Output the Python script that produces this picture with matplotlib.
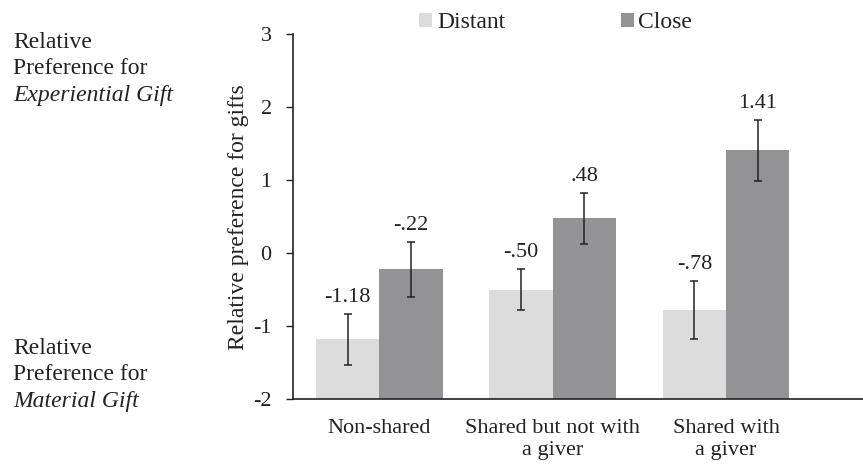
import numpy as np
import matplotlib.pyplot as plt

plt.rcParams['font.family'] = ['Liberation Serif', 'DejaVu Serif']

# data
categories = ['Non-shared', 'Shared but not with\na giver', 'Shared with\na giver']
distant = [-1.18, -0.50, -0.78]
close = [-0.22, 0.48, 1.41]
distant_err = [0.35, 0.285, 0.395]
close_err = [0.375, 0.35, 0.42]
distant_labels = ['-1.18', '-.50', '-.78']
close_labels = ['-.22', '.48', '1.41']

fig = plt.figure(figsize=(8.63, 4.68), dpi=100)
ax = fig.add_axes([0.339, 0.147, 0.661, 0.78])

x = np.arange(len(categories))
w = 0.365
c_dist = '#dcdcdd'
c_close = '#939396'
txt = '#222222'

ax.bar(x - w / 2, np.array(distant) + 2, w, bottom=-2, color=c_dist, label='Distant')
ax.bar(x + w / 2, np.array(close) + 2, w, bottom=-2, color=c_close, label='Close')
ax.errorbar(x - w / 2, distant, yerr=distant_err, fmt='none', ecolor=txt,
            elinewidth=1.1, capsize=2.8, capthick=1.1)
ax.errorbar(x + w / 2, close, yerr=close_err, fmt='none', ecolor=txt,
            elinewidth=1.1, capsize=2.8, capthick=1.1)

for xi, v, e, s in zip(x - w / 2, distant, distant_err, distant_labels):
    ax.annotate(s, (xi, v + e), xytext=(0, 5), textcoords='offset points',
                ha='center', va='bottom', fontsize=16, color=txt)
for xi, v, e, s in zip(x + w / 2, close, close_err, close_labels):
    ax.annotate(s, (xi, v + e), xytext=(0, 5), textcoords='offset points',
                ha='center', va='bottom', fontsize=16, color=txt)

ax.set_ylim(-2, 3)
ax.set_xlim(-0.5, 2.79)
ax.set_yticks([-2, -1, 0, 1, 2, 3])
ax.set_yticklabels(['-2', '-1', '0', '1', '2', '3'], fontsize=16, color=txt)
ax.set_xticks(x)
ax.set_xticklabels(categories, fontsize=16, color=txt, linespacing=1.25)
ax.tick_params(axis='x', length=0, pad=14)
ax.tick_params(axis='y', length=5, width=1, color=txt, pad=10)
for sp in ['top', 'right']:
    ax.spines[sp].set_visible(False)
for sp in ['left', 'bottom']:
    ax.spines[sp].set_color(txt)
    ax.spines[sp].set_linewidth(1.2)
ax.set_ylabel('Relative preference for gifts', fontsize=17, color=txt, labelpad=3)

fig.legend(loc='center', bbox_to_anchor=(0.644, 0.951), ncol=2, frameon=False,
           fontsize=17, handlelength=0.55, handleheight=0.55, handletextpad=0.2,
           columnspacing=4.9, labelcolor=txt)

# side annotations
fig.text(0.015, 1 - 42 / 468, 'Relative', fontsize=17, va='center', color=txt)
fig.text(0.015, 1 - 69 / 468, 'Preference for', fontsize=17, va='center', color=txt)
fig.text(0.015, 1 - 96 / 468, 'Experiential Gift', fontsize=17, va='center',
         style='italic', color=txt)
fig.text(0.015, 1 - 348 / 468, 'Relative', fontsize=17, va='center', color=txt)
fig.text(0.015, 1 - 375 / 468, 'Preference for', fontsize=17, va='center', color=txt)
fig.text(0.015, 1 - 402 / 468, 'Material Gift', fontsize=17, va='center',
         style='italic', color=txt)

fig.savefig('out.png', dpi=100)
